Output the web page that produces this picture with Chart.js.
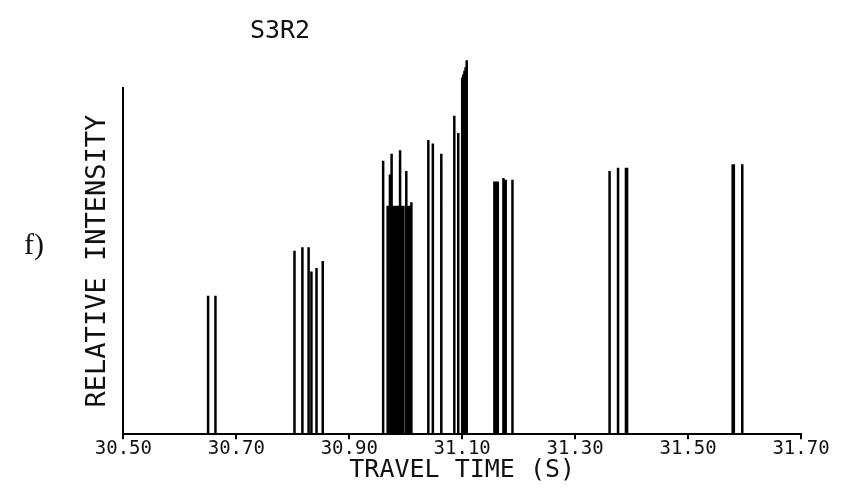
<!DOCTYPE html>
<html>
<head>
<meta charset="utf-8">
<script src="https://cdn.jsdelivr.net/npm/chart.js@4/dist/chart.umd.min.js"></script>
<style>
  html, body { margin: 0; padding: 0; background: #fff; }
  #wrap { width: 850px; height: 493px; }
</style>
</head>
<body>
<div id="wrap"><canvas id="canvas"></canvas></div>
<script>
// arrival times (s) and relative intensity of each arrival
const spikeTimes = [
  30.650, 30.663,
  30.803, 30.817, 30.828, 30.833, 30.842, 30.853,
  30.960, 30.968, 30.972, 30.975, 30.978, 30.981, 30.984, 30.987, 30.990,
  30.993, 30.996, 31.001, 31.004, 31.007, 31.010,
  31.040, 31.048, 31.063,
  31.086, 31.093, 31.100, 31.102, 31.104, 31.106, 31.108,
  31.157, 31.160, 31.163, 31.173, 31.177, 31.189,
  31.361, 31.376, 31.390, 31.392,
  31.579, 31.581, 31.596
];
const spikeHeights = [
  0.40, 0.40,
  0.53, 0.54, 0.54, 0.47, 0.48, 0.50,
  0.79, 0.66, 0.75, 0.81, 0.66, 0.66, 0.66, 0.66, 0.82,
  0.66, 0.66, 0.76, 0.66, 0.66, 0.67,
  0.85, 0.84, 0.81,
  0.92, 0.87, 1.03, 1.04, 1.05, 1.06, 1.08,
  0.73, 0.73, 0.73, 0.74, 0.735, 0.735,
  0.76, 0.77, 0.77, 0.77,
  0.78, 0.78, 0.78
];
const xTickLabels = ['30.50', '30.70', '30.90', '31.10', '31.30', '31.50', '31.70'];
const titleText = 'S3R2';
const panelLabel = 'f)';

// each spike: baseline -> peak, then a gap
const points = [];
spikeTimes.forEach((t, i) => {
  points.push({ x: t, y: 0 });
  points.push({ x: t, y: spikeHeights[i] });
  points.push({ x: t, y: null });
});

const mono = 'DejaVu Sans Mono';

// title and panel letter drawn on the canvas
const textPlugin = {
  id: 'extraText',
  afterDraw(chart) {
    const c = chart.ctx;
    c.save();
    c.fillStyle = '#111';
    c.textAlign = 'center';
    c.textBaseline = 'middle';
    c.font = '25px "' + mono + '"';
    c.fillText(titleText, 280, 31);
    c.font = '30px "Liberation Serif"';
    c.fillText(panelLabel, 34, 246);
    c.restore();
  }
};

const ctx = document.getElementById('canvas').getContext('2d');
new Chart(ctx, {
  type: 'line',
  data: {
    datasets: [{
      data: points,
      borderColor: '#000',
      borderWidth: 2.5,
      pointRadius: 0,
      spanGaps: false,
      tension: 0,
      clip: false
    }]
  },
  options: {
    responsive: true,
    maintainAspectRatio: false,
    animation: false,
    layout: { padding: { top: 88, left: 82, right: 49, bottom: 8 } },
    plugins: {
      legend: { display: false },
      tooltip: { enabled: false }
    },
    scales: {
      x: {
        type: 'linear',
        min: 30.5,
        max: 31.7,
        ticks: {
          stepSize: 0.2,
          color: '#111',
          font: { family: mono, size: 19 },
          padding: -2,
          maxRotation: 0,
          autoSkip: false,
          callback: (v, i) => xTickLabels[i]
        },
        grid: { drawOnChartArea: false, color: '#000', tickLength: 5, lineWidth: 2 },
        border: { color: '#000', width: 2 },
        title: {
          display: true,
          text: 'TRAVEL TIME (S)',
          color: '#111',
          font: { family: mono, size: 25 },
          padding: { top: -3, bottom: 0 }
        }
      },
      y: {
        type: 'linear',
        min: 0,
        max: 1.0,
        ticks: { display: false },
        grid: { display: false },
        border: { color: '#000', width: 2 },
        title: {
          display: true,
          text: 'RELATIVE INTENSITY',
          color: '#111',
          font: { family: mono, size: 27 },
          padding: { top: 0, bottom: 1 }
        }
      }
    }
  },
  plugins: [textPlugin]
});
</script>
</body>
</html>
